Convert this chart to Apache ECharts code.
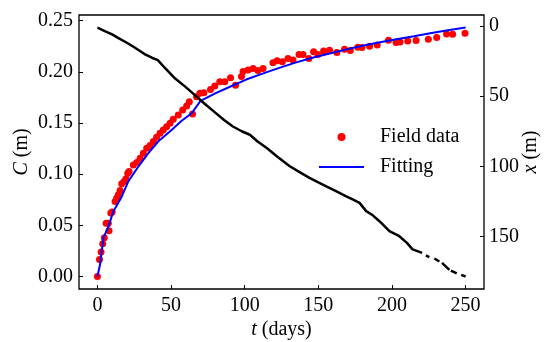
<!DOCTYPE html>
<html>
<head>
<meta charset="utf-8">
<script src="https://cdn.jsdelivr.net/npm/echarts@6/dist/echarts.min.js"></script>
<style>html,body{margin:0;padding:0;background:#fff}#c{width:547px;height:342px}</style>
</head>
<body>
<div id="c"></div>
<script>
// ---- data ----
const tTicks = [0, 50, 100, 150, 200, 250];
const cTicks = [0, 0.05, 0.10, 0.15, 0.20, 0.25];
const xTicks = [0, 50, 100, 150];

// Field data: [t (days), C (m)]
const fieldT = [0,1.4,2.5,3.6,4.7,5.9,7.4,7.9,9.1,10,12,13.1,14.2,15.4,16.5,18.1,19.4,20.6,21.5,24.4,26.7,29,31.2,33.5,35.7,38,40.2,42.5,44.7,47,49.3,51.5,54.9,57.9,60.6,62.4,64.6,67.3,69.6,72.3,76.8,79.7,83.1,86.5,90.4,93.8,97.8,98.9,102.3,105.7,109,112.5,119.2,122,125.6,129.4,132.8,136.9,139.6,143.6,146.8,149.7,153.6,157.6,162.6,167.8,171.7,176.8,179.6,184.8,190,197.6,202.8,205.5,210.7,216.4,224.7,230.4,237.1,241.2,249.6];
const fieldC = [0,0.0166,0.024,0.032,0.038,0.052,0.052,0.0448,0.062,0.063,0.0734,0.0767,0.08,0.084,0.0906,0.0929,0.0955,0.101,0.1026,0.109,0.1114,0.1157,0.1206,0.1254,0.128,0.1319,0.1361,0.14,0.1433,0.1465,0.1498,0.1537,0.1579,0.1628,0.1667,0.1709,0.1588,0.1757,0.179,0.1796,0.1829,0.1862,0.1903,0.1903,0.1943,0.187,0.1955,0.2005,0.2018,0.2034,0.2013,0.2034,0.209,0.211,0.21,0.2131,0.2115,0.2171,0.2171,0.2131,0.2196,0.2171,0.2203,0.2212,0.219,0.2222,0.221,0.2242,0.2239,0.2251,0.2264,0.231,0.2288,0.2293,0.2303,0.2307,0.232,0.2336,0.2371,0.2368,0.2378];

// Fitting curve: [t, C]
const fitT = [0,1.8,4.1,7.5,10.8,16.5,21,27.8,34.6,42,50.4,57,64,70,80,90,101,112.6,124,135,146,157.7,169,180,191,203,215,226,238,250];
const fitC = [0,0.0117,0.0377,0.049,0.0636,0.078,0.093,0.1075,0.1206,0.133,0.1433,0.152,0.1596,0.1716,0.179,0.1855,0.1925,0.1985,0.2042,0.2093,0.2138,0.218,0.222,0.2255,0.2287,0.2318,0.2349,0.2378,0.2406,0.2434];

// Position x (m) vs t (days); null = missing record
const posT = [0,5,10,14,20,25,32,37,41,46,52.6,60,66,73,80,86,92,98,103.5,109,115,122,130.6,137,144,150,155.4,162,169,174,178,182.5,187,191.5,198.3,205,210,214,215,220.5,221,223,225.4,226,228.8,232.2,233,234,239,239.5,240,244,245,247,250];
const posX = [1,3.5,5.8,8.3,11.8,15,19.9,22.5,24.2,30,37.2,43.5,49,55.5,61.7,67,71.6,75,77.5,82.5,87,93,100,104,108.3,111.5,114.3,117.7,121.4,124,126.1,132,135,139.2,146.3,149.9,154.5,159.3,159.5,161.8,null,163.6,164.8,null,165.8,168,null,169,174,null,174.5,176.5,null,177.5,178.7];

const zip = (a, b) => a.map((v, i) => [v, b[i]]);

const FONT = 'Liberation Serif';
const FS = 20;
const chart = echarts.init(document.getElementById('c'), null, {renderer: 'canvas'});
const tickStyle = {show: true, inside: true, length: 4, lineStyle: {color: '#000', width: 1}};
const nameStyle = {fontFamily: FONT, fontSize: FS, color: '#000', rich: {i: {fontStyle: 'italic', fontFamily: FONT, fontSize: FS, color: '#000'}}};
chart.setOption({
  animation: false,
  textStyle: {fontFamily: FONT},
  grid: {left: 79, right: 63, top: 15, bottom: 53, containLabel: false, outerBoundsMode: 'none',
         show: true, borderColor: '#000', borderWidth: 1.3, backgroundColor: 'transparent'},
  legend: {
    orient: 'vertical', left: 314, top: 122,
    itemWidth: 45, itemHeight: 8, itemGap: 10,
    textStyle: {fontFamily: FONT, fontSize: FS, color: '#000', padding: [0, 0, 0, 11]},
    data: [
      {name: 'Field data', icon: 'circle'},
      {name: 'Fitting', icon: 'path://M0,0h45v2h-45z'}
    ]
  },
  xAxis: {
    type: 'value', min: -12.5, max: 262.5,
    name: '{i|t} (days)', nameLocation: 'middle', nameGap: 31, nameMoveOverlap: false,
    nameTextStyle: nameStyle,
    axisLine: {show: false, onZero: false},
    splitLine: {show: false},
    axisTick: Object.assign({customValues: tTicks}, tickStyle),
    axisLabel: {customValues: tTicks, fontFamily: FONT, fontSize: FS, color: '#000', margin: 7}
  },
  yAxis: [{
    type: 'value', min: -0.0122, max: 0.2556, position: 'left',
    name: '{i|C} (m)', nameLocation: 'middle', nameGap: 47, nameRotate: 90, nameMoveOverlap: false,
    nameTextStyle: nameStyle,
    axisLine: {show: false, onZero: false},
    splitLine: {show: false},
    axisTick: Object.assign({customValues: cTicks}, tickStyle),
    axisLabel: {customValues: cTicks, formatter: v => v.toFixed(2), fontFamily: FONT, fontSize: FS, color: '#000', margin: 6}
  }, {
    type: 'value', min: -8, max: 187.6, inverse: true, position: 'right',
    name: '{i|x} (m)', nameLocation: 'middle', nameGap: 37, nameRotate: 90, nameMoveOverlap: false,
    nameTextStyle: nameStyle,
    axisLine: {show: false, onZero: false},
    splitLine: {show: false},
    axisTick: Object.assign({customValues: xTicks}, tickStyle),
    axisLabel: {customValues: xTicks, fontFamily: FONT, fontSize: FS, color: '#000', margin: 5}
  }],
  series: [{
    name: 'Field data', type: 'scatter', yAxisIndex: 0, z: 2,
    symbol: 'circle', symbolSize: 7,
    itemStyle: {color: '#ff0000', opacity: 1},
    data: zip(fieldT, fieldC)
  }, {
    name: 'Fitting', type: 'line', yAxisIndex: 0, z: 3,
    symbol: 'none', smooth: false,
    lineStyle: {color: '#0000ff', width: 2},
    itemStyle: {color: '#0000ff'},
    data: zip(fitT, fitC)
  }, {
    name: 'x', type: 'line', yAxisIndex: 1, z: 4,
    symbol: 'none', connectNulls: false,
    lineStyle: {color: '#000', width: 2.5},
    data: zip(posT, posX)
  }]
});
</script>
</body>
</html>
